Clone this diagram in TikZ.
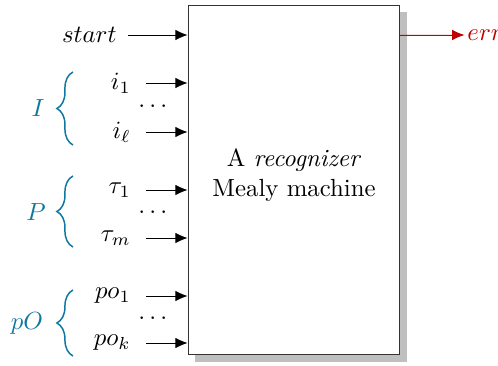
\documentclass[tikz,border=0pt]{standalone}
\usepackage{amsmath, amssymb}
\usetikzlibrary{arrows.meta, positioning, shadows, decorations.pathreplacing}
\definecolor{setblue}{RGB}{16,120,160}
\definecolor{errred}{RGB}{190,0,0}

\begin{document}
\begin{tikzpicture}[
    x=0.01417cm, y=-0.01417cm,
    machine/.style={
        draw=black!80,
        fill=white,
        minimum width=3.0cm,
        minimum height=4.96cm,
        drop shadow={shadow xshift=2.8pt, shadow yshift=-2.8pt,
            fill=black!25, opacity=1}
    },
    inlabel/.style={
        inner xsep=6pt,
        inner ysep=0pt,
        anchor=east
    },
    setlabel/.style={
        text=setblue
    },
    arrow/.style={
        -{Latex[length=5pt, width=4.3pt]},
        draw=black
    },
    errarrow/.style={
        -{Latex[length=5pt, width=4.3pt]},
        draw=errred,
        fill=errred
    },
    group/.style={
        decorate,
        decoration={brace, amplitude=6.5pt},
        draw=setblue,
        semithick
    }
]
\useasboundingbox (0,0) rectangle (498,365);

% Nodes
\node (box) [machine] at (294,180) {};
\node (title) [align=center] at (294,175) {A \emph{recognizer}\\Mealy machine};

\node (start) [inlabel, inner xsep=4.4pt] at (128,35) {$start$};
\node (i1) [inlabel] at (146,83) {$i_1$};
\node (il) [inlabel] at (146,132) {$i_\ell$};
\node (tau1) [inlabel] at (146,190) {$\tau_1$};
\node (taum) [inlabel] at (146,238) {$\tau_m$};
\node (po1) [inlabel] at (146,296) {$po_1$};
\node (pok) [inlabel] at (146,343) {$po_k$};

\node (idots) at (155,106) {$\dots$};
\node (pdots) at (155,212) {$\dots$};
\node (podots) at (155,318) {$\dots$};

\node (err) [anchor=west, inner sep=1pt, text=errred] at (464.5,35) {$err$};

% Braces and set names
\draw [group] (73,145) -- (73,72);
\draw [group] (73,247) -- (73,176);
\draw [group] (73,356) -- (73,290);
\node (setI) [setlabel] at (38,108) {$I$};
\node (setP) [setlabel] at (36,212) {$P$};
\node (setpO) [setlabel] at (27,323) {$pO$};

% Paths
\draw [arrow] (start.east) -- (start.east -| box.west);
\draw [arrow] (i1.east) -- (i1.east -| box.west);
\draw [arrow] (il.east) -- (il.east -| box.west);
\draw [arrow] (tau1.east) -- (tau1.east -| box.west);
\draw [arrow] (taum.east) -- (taum.east -| box.west);
\draw [arrow] (po1.east) -- (po1.east -| box.west);
\draw [arrow] (pok.east) -- (pok.east -| box.west);
\draw [errarrow] (err.west -| box.east) -- (err.west);

\end{tikzpicture}
\end{document}
